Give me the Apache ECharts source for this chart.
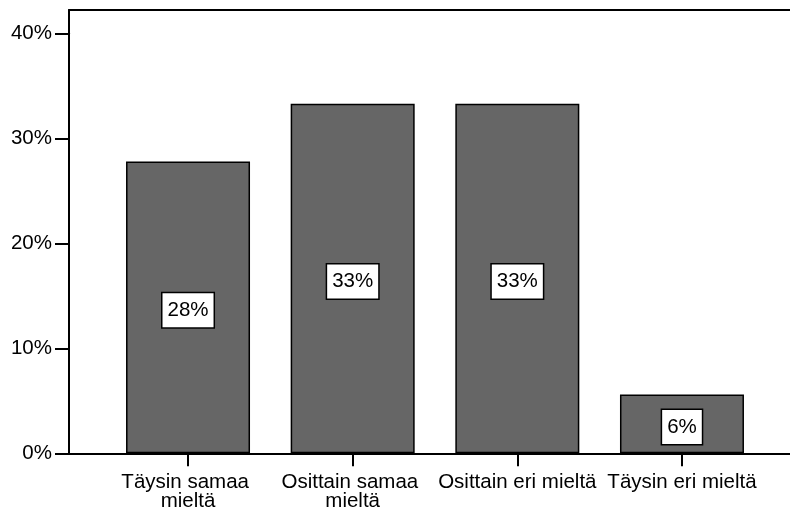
<!DOCTYPE html>
<html>
<head>
<meta charset="utf-8">
<script src="https://cdn.jsdelivr.net/npm/echarts@6/dist/echarts.min.js"></script>
<style>
  html, body { margin: 0; padding: 0; background: #fff; }
  #chart { width: 790px; height: 513px; }
</style>
</head>
<body>
<div id="chart"></div>
<script>
// Vastausjakauma (%)
const categories = ['Täysin samaa mieltä', 'Osittain samaa mieltä', 'Osittain eri mieltä', 'Täysin eri mieltä'];
const percents = [27.8, 33.3, 33.3, 5.6];
const yTicks = { min: 0, max: 40, interval: 10 };

const FONT = 'Liberation Sans, Arial, sans-serif';
const chart = echarts.init(document.getElementById('chart'), null, { renderer: 'canvas' });

const frameLine = { show: true, lineStyle: { color: '#000', width: 2 } };

chart.setOption({
  backgroundColor: '#ffffff',
  animation: false,
  textStyle: { fontFamily: FONT, color: '#000' },
  grid: [
    // plotting grid for the bars
    { left: 105.7, right: 25.7, top: 33.3, bottom: 59.7 },
    // outer frame: top and bottom lines running to the right edge
    { left: 69, right: 0, top: 10, bottom: 59.7, show: false }
  ],
  xAxis: [
    {
      gridIndex: 0,
      type: 'category',
      data: categories,
      axisLine: { show: false },
      axisTick: { show: true, alignWithLabel: true, length: 13, lineStyle: { color: '#000', width: 2 } },
      axisLabel: {
        interval: 0, margin: 20, color: '#000', fontFamily: FONT, fontSize: 20.5,
        lineHeight: 19, width: 180, overflow: 'break'
      }
    },
    { gridIndex: 1, type: 'value', position: 'bottom', min: 0, max: 1,
      axisLine: frameLine, axisTick: { show: false }, axisLabel: { show: false }, splitLine: { show: false } },
    { gridIndex: 1, type: 'value', position: 'top', min: 0, max: 1,
      axisLine: frameLine, axisTick: { show: false }, axisLabel: { show: false }, splitLine: { show: false } }
  ],
  yAxis: [
    {
      gridIndex: 0,
      type: 'value',
      min: yTicks.min, max: yTicks.max, interval: yTicks.interval,
      offset: 36.7,
      axisLine: { show: true, lineStyle: { color: '#000', width: 2 } },
      axisTick: { show: true, length: 14, lineStyle: { color: '#000', width: 2 } },
      splitLine: { show: false },
      axisLabel: { margin: 17, color: '#000', fontFamily: FONT, fontSize: 20.5, formatter: '{value}%' }
    },
    { gridIndex: 1, type: 'value', min: 0, max: 1, position: 'left',
      axisLine: frameLine, axisTick: { show: false }, axisLabel: { show: false }, splitLine: { show: false } }
  ],
  series: [
    {
      type: 'bar',
      xAxisIndex: 0, yAxisIndex: 0,
      data: percents,
      barWidth: 124,
      itemStyle: { color: '#666666', borderColor: '#000', borderWidth: 1.5 },
      label: {
        show: true,
        position: 'inside',
        offset: [0, 3],
        formatter: p => Math.round(p.value) + '%',
        color: '#000',
        fontFamily: FONT,
        fontSize: 20.5,
        lineHeight: 24,
        backgroundColor: '#fff',
        borderColor: '#000',
        borderWidth: 1.5,
        padding: [5, 5, 5, 5]
      }
    }
  ]
});
</script>
</body>
</html>
